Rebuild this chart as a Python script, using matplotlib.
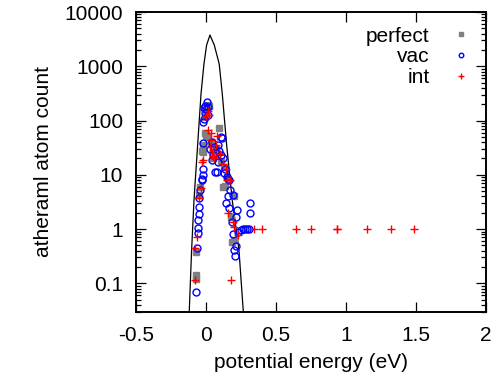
import matplotlib
matplotlib.use("Agg")
import matplotlib.pyplot as plt
from matplotlib.ticker import LogLocator, NullFormatter, FixedLocator

plt.rcParams['font.family'] = ['Liberation Sans', 'DejaVu Sans']

# curve (energy in eV, count)
curve_x = [-0.125, -0.118, -0.101, -0.084, -0.058, -0.034, -0.013, 0.006, 0.030,
           0.061, 0.096, 0.118, 0.149, 0.189, 0.237, 0.268, 0.275]
curve_y = [0.012, 0.030, 0.41, 3.4, 35.3, 308, 1100, 2450, 3770,
           2450, 1100, 308, 35.3, 3.4, 0.41, 0.030, 0.02]

# perfect crystal
perfect_x = [0.023, 0.001, 0.013, 0.094, -0.006, 0.006, 0.001, -0.018, -0.027, -0.022,
             0.054, 0.054, 0.13, 0.125, 0.137, 0.204, 0.18, 0.201, 0.187,
             -0.042, -0.046, -0.07, -0.07, -0.07, -0.006, 0.035, 0.07, 0.11, 0.15]
perfect_y = [186, 152, 195, 72, 59, 50, 54, 35, 28, 26,
             26, 20, 14, 6, 6.2, 4, 1.7, 0.63, 0.58,
             6, 4.3, 0.38, 0.14, 0.12, 117, 40, 30, 18, 9]

# vacancy
vac_x = [0.006, -0.004, -0.011, 0.013, -0.004, -0.018, -0.011, 0.11, 0.044, -0.018,
         0.085, 0.018, 0.113, 0.054, 0.073, 0.106, 0.125, 0.042, 0.089, 0.066,
         0.137, -0.022, -0.022, -0.029, 0.161, 0.03, 0.06, 0.095, 0.002,
         -0.027, -0.042, -0.046, -0.046, -0.051, -0.054, -0.056, -0.058, -0.065, -0.07,
         0.077, 0.132, 0.149, 0.164, 0.175, 0.161, 0.192, 0.144, 0.168, 0.22,
         0.215, 0.189, 0.196, 0.213, 0.206, 0.203,
         0.232, 0.25, 0.267, 0.28, 0.296, 0.308, 0.315, 0.315]
vac_y = [224, 186, 170, 178, 137, 92, 106, 49, 40, 38,
         35, 126, 47, 23, 25, 23, 20, 19, 17, 11.5,
         13, 13, 10, 8, 8.5, 30, 33, 28, 160,
         8.3, 5.2, 3.7, 2.5, 1.9, 1.47, 1.06, 0.83, 0.44, 0.068,
         11.5, 10.7, 9.3, 8.0, 5.2, 4.0, 4.3, 3.0, 2.4, 2.2,
         1.7, 1.36, 0.81, 0.49, 0.32, 0.41,
         0.89, 0.96, 0.99, 1.0, 1.0, 1.0, 2.98, 2.0]

# interstitial
int_x = [0.013, 0.023, 0.001, 0.018, 0.035, 0.082, 0.039, -0.018, -0.027, 0.045,
         0.055, 0.05, 0.06, 0.125, 0.144, 0.154, 0.174, -0.037, -0.046, 0.16,
         0.196, 0.204, 0.232, -0.061, -0.077, -0.075, 0.182, 0.03, 0.07, 0.1,
         0.344, 0.403, 0.644, 0.749, 0.934, 0.939, 1.153, 1.324, 1.484]
int_y = [148, 125, 123, 66, 59, 52, 44, 19, 17.4, 25,
         22, 28, 20, 16, 13, 8, 8.1, 5.6, 3.7, 2.0,
         1.36, 1.1, 0.78, 0.72, 0.45, 0.115, 0.117, 33, 36, 24,
         1, 1, 1, 1, 1, 1, 1, 1, 1]

fig = plt.figure(figsize=(4.98, 3.86), dpi=100)
ax = fig.add_axes([0.2725, 0.1925, 0.7034, 0.7764])

ax.plot(curve_x, curve_y, color='black', lw=0.9)
ax.plot(perfect_x, perfect_y, ls='none', marker='s', ms=4.8, color='#808080', label='perfect')
ax.plot(vac_x, vac_y, ls='none', marker='o', ms=5.0, mfc='none', mec='#0000ff', mew=1.0, label='vac')
ax.plot(int_x, int_y, ls='none', marker='+', ms=6, color='#ff0000', mew=1.0, label='int')

ax.set_yscale('log')
ax.set_xlim(-0.5, 2)
ax.set_ylim(0.03, 10000)
ax.xaxis.set_major_locator(FixedLocator([-0.5, 0, 0.5, 1, 1.5, 2]))
ax.set_xticklabels(['-0.5', '0', '0.5', '1', '1.5', '2'])
ax.yaxis.set_major_locator(FixedLocator([0.1, 1, 10, 100, 1000, 10000]))
ax.set_yticklabels(['0.1', '1', '10', '100', '1000', '10000'])
ax.yaxis.set_minor_locator(LogLocator(base=10, subs=range(2, 10), numticks=20))
ax.yaxis.set_minor_formatter(NullFormatter())

ax.tick_params(which='both', direction='in', top=True, right=True, labelsize=15, colors='black')
ax.tick_params(which='major', length=7, width=0.9)
ax.tick_params(which='minor', length=3.6, width=0.9)
ax.tick_params(axis='x', pad=10)
ax.tick_params(axis='y', pad=9)
for s in ax.spines.values():
    s.set_linewidth(1.4)

ax.set_xlabel('potential energy (eV)', fontsize=15, labelpad=6)
ax.set_ylabel('atheraml atom count', fontsize=15, labelpad=8)

leg = ax.legend(loc='upper right', frameon=False, fontsize=15, markerfirst=False,
                handlelength=1.0, handletextpad=1.0, labelspacing=0.08,
                borderaxespad=0.3, markerscale=0.65)
for t in leg.get_texts():
    t.set_ha('right')
leg._legend_box.align = 'right'

fig.savefig('out.png', dpi=100)
